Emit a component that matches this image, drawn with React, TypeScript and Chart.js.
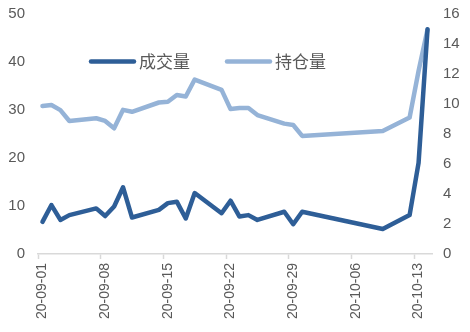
import React, { useEffect, useRef } from "react";
import { Chart, registerables } from "chart.js";

Chart.register(...registerables);

// Calendar categories (x axis), 20-09-01 .. 20-10-14
const categories: string[] = [
  "20-09-01", "20-09-02", "20-09-03", "20-09-04", "20-09-05", "20-09-06", "20-09-07",
  "20-09-08", "20-09-09", "20-09-10", "20-09-11", "20-09-12", "20-09-13", "20-09-14",
  "20-09-15", "20-09-16", "20-09-17", "20-09-18", "20-09-19", "20-09-20", "20-09-21",
  "20-09-22", "20-09-23", "20-09-24", "20-09-25", "20-09-26", "20-09-27", "20-09-28",
  "20-09-29", "20-09-30", "20-10-01", "20-10-02", "20-10-03", "20-10-04", "20-10-05",
  "20-10-06", "20-10-07", "20-10-08", "20-10-09", "20-10-10", "20-10-11", "20-10-12",
  "20-10-13", "20-10-14",
];

// Trading days with observations
const tradingDays: string[] = [
  "20-09-01", "20-09-02", "20-09-03", "20-09-04",
  "20-09-07", "20-09-08", "20-09-09", "20-09-10", "20-09-11",
  "20-09-14", "20-09-15", "20-09-16", "20-09-17", "20-09-18",
  "20-09-21", "20-09-22", "20-09-23", "20-09-24", "20-09-25",
  "20-09-28", "20-09-29", "20-09-30",
  "20-10-09", "20-10-12", "20-10-13", "20-10-14",
];

// 成交量 (left axis)
const volume: number[] = [
  6.7, 10.2, 7.1, 8.1,
  9.5, 7.9, 9.9, 13.9, 7.6,
  9.2, 10.6, 10.9, 7.4, 12.7,
  8.5, 11.1, 7.8, 8.1, 7.1,
  8.8, 6.2, 8.8,
  5.2, 8.1, 19.0, 46.8,
];

// 持仓量 (right axis)
const openInterest: number[] = [
  9.86, 9.93, 9.59, 8.87,
  9.05, 8.87, 8.38, 9.61, 9.48,
  10.1, 10.15, 10.6, 10.5, 11.63,
  10.94, 9.66, 9.73, 9.73, 9.26,
  8.69, 8.6, 7.87,
  8.2, 9.1, 12.2, 14.97,
];

const seriesNames: string[] = ["成交量", "持仓量"];
const leftTicks = { min: 0, max: 50, step: 10 };
const rightTicks = { min: 0, max: 16, step: 2 };
const labelEvery = 7;

const DARK = "#2E5E97";
const LIGHT = "#95B3D7";
const TEXT = "#595959";
const AXIS = "#D9D9D9";

function alignToCategories(values: number[]): (number | null)[] {
  return categories.map((c) => {
    const i = tradingDays.indexOf(c);
    return i >= 0 ? values[i] : null;
  });
}

const legendPlugin = {
  id: "customLegend",
  afterDraw(chart: any) {
    const { ctx, chartArea } = chart;
    const y = chartArea.top + 47.5;
    const items = [
      { x: chartArea.left + 53, color: DARK, text: seriesNames[0] },
      { x: chartArea.left + 189, color: LIGHT, text: seriesNames[1] },
    ];
    ctx.save();
    for (const it of items) {
      ctx.beginPath();
      ctx.strokeStyle = it.color;
      ctx.lineWidth = 4.5;
      ctx.lineCap = "round";
      ctx.moveTo(it.x, y);
      ctx.lineTo(it.x + 43, y);
      ctx.stroke();
      ctx.fillStyle = TEXT;
      ctx.font = '17px "Noto Sans CJK SC"';
      ctx.textBaseline = "middle";
      ctx.textAlign = "left";
      ctx.fillText(it.text, it.x + 48, y + 0.5);
    }
    ctx.restore();
  },
};

function fixYAxis(scale: any) {
  scale.width = 38;
  scale.paddingTop = 0;
  scale.paddingBottom = 0;
}

export default function App() {
  const canvasRef = useRef<HTMLCanvasElement | null>(null);

  useEffect(() => {
    if (!canvasRef.current) return;
    const chart = new Chart(canvasRef.current, {
      type: "line",
      data: {
        labels: categories,
        datasets: [
          {
            label: seriesNames[0],
            data: alignToCategories(volume),
            yAxisID: "y",
            borderColor: DARK,
            backgroundColor: DARK,
            borderWidth: 4.5,
            pointRadius: 0,
            borderCapStyle: "round",
            borderJoinStyle: "round",
            spanGaps: true,
            tension: 0,
          },
          {
            label: seriesNames[1],
            data: alignToCategories(openInterest),
            yAxisID: "y1",
            borderColor: LIGHT,
            backgroundColor: LIGHT,
            borderWidth: 4.5,
            pointRadius: 0,
            borderCapStyle: "round",
            borderJoinStyle: "round",
            spanGaps: true,
            tension: 0,
          },
        ],
      },
      options: {
        animation: false,
        responsive: true,
        maintainAspectRatio: false,
        layout: { padding: { top: 14, left: 0, right: 0, bottom: 0 } },
        plugins: {
          legend: { display: false },
          tooltip: { enabled: false },
        },
        scales: {
          x: {
            type: "category",
            offset: true,
            grid: {
              display: true,
              offset: true,
              drawOnChartArea: false,
              drawTicks: true,
              tickLength: 5,
              tickWidth: 1.5,
              tickColor: (ctx: any) =>
                typeof ctx.index === "number" && ctx.index % labelEvery === 0 && ctx.index < categories.length
                  ? AXIS
                  : "rgba(0,0,0,0)",
            },
            border: { display: true, color: AXIS, width: 1.5 },
            ticks: {
              autoSkip: false,
              maxRotation: 90,
              minRotation: 90,
              padding: 4,
              color: TEXT,
              font: { family: '"Liberation Sans", Arial, sans-serif', size: 14 },
              callback: (_v: any, index: number) =>
                index % labelEvery === 0 ? categories[index] : "",
            },
            afterFit: (scale: any) => {
              scale.height = 78;
              scale.paddingTop = 0;
            },
          },
          y: {
            position: "left",
            min: leftTicks.min,
            max: leftTicks.max,
            grid: { display: false, drawTicks: false },
            border: { display: false },
            ticks: {
              stepSize: leftTicks.step,
              padding: 13,
              color: TEXT,
              font: { family: '"Liberation Sans", Arial, sans-serif', size: 15 },
            },
            afterFit: fixYAxis,
          },
          y1: {
            position: "right",
            min: rightTicks.min,
            max: rightTicks.max,
            grid: { display: false, drawTicks: false },
            border: { display: false },
            ticks: {
              stepSize: rightTicks.step,
              padding: 11,
              color: TEXT,
              font: { family: '"Liberation Sans", Arial, sans-serif', size: 15 },
            },
            afterFit: fixYAxis,
          },
        },
      } as any,
      plugins: [legendPlugin],
    });
    return () => chart.destroy();
  }, []);

  return (
    <div style={{ position: "fixed", left: 0, top: 0, width: 470, height: 332, background: "#fff" }}>
      <canvas ref={canvasRef} />
    </div>
  );
}
